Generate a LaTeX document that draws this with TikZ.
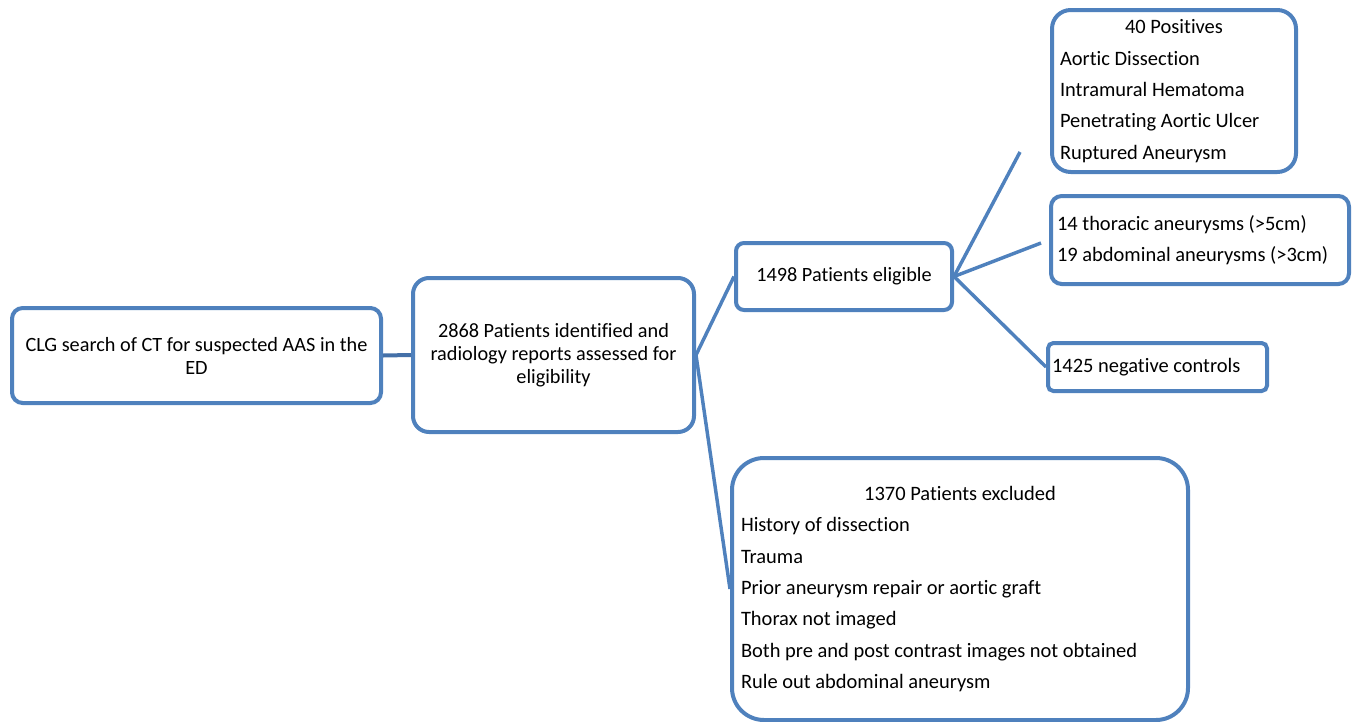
\documentclass[tikz,border=0pt]{standalone}
\usepackage{fontspec}
\setmainfont{Carlito}[Ligatures=NoCommon]
\definecolor{boxblue}{RGB}{79,129,189}
\definecolor{linkblue}{RGB}{68,112,168}

\begin{document}
\begin{tikzpicture}[
  x=0.75pt, y=-0.75pt,
  every node/.style={font=\fontsize{15.2}{17.3}\selectfont},
  rbox/.style={draw=boxblue, line width=3pt, fill=white, align=center, inner sep=0pt},
  lbox/.style={rbox, align=flush left, font=\fontsize{15.35}{23.5}\selectfont},
  link/.style={draw=boxblue, line width=2.6pt}
]
  \useasboundingbox (0,0) rectangle (1355,721);

  %--- nodes
  \node[rbox, minimum width=276.75pt, minimum height=71.25pt, rounded corners=8pt]
    (search) at (196.5,355.5) {CLG search of CT for suspected AAS in the\\ED};
  \node[rbox, minimum width=210.75pt, minimum height=115.5pt, rounded corners=12pt]
    (ident) at (553.5,355) {2868 Patients identified and\\radiology reports assessed for\\eligibility};
  \node[rbox, minimum width=162pt, minimum height=50.25pt, rounded corners=6pt]
    (elig) at (844,276.5) {1498 Patients eligible};

  \node[lbox, text width=171pt, inner xsep=6pt, minimum height=121.5pt, rounded corners=14pt]
    (pos) at (1174,91) {\makebox[\linewidth]{40 Positives}\\
      Aortic Dissection\\Intramural Hematoma\\Penetrating Aortic Ulcer\\Ruptured Aneurysm};
  \node[lbox, text width=214.5pt, inner xsep=4.5pt, minimum height=66pt, rounded corners=8pt]
    (aneur) at (1200,240) {14 thoracic aneurysms (>5cm)\\19 abdominal aneurysms (>3cm)};
  \node[lbox, text width=158.25pt, inner xsep=3pt, minimum height=36pt, rounded corners=4pt]
    (neg) at (1157.5,367) {1425 negative controls};
  \node[lbox, text width=328.5pt, inner xsep=6.75pt, minimum height=196.5pt, rounded corners=24pt]
    (excl) at (960,589) {\makebox[\linewidth]{1370 Patients excluded}\\
      History of dissection\\Trauma\\Prior aneurysm repair or aortic graft\\
      Thorax not imaged\\Both pre and post contrast images not obtained\\
      Rule out abdominal aneurysm};

  % free ends of two links
  \coordinate (posend)   at (1020,152);
  \coordinate (aneurend) at (1041,243);

  %--- links
  \draw[link, draw=linkblue, line width=3pt] (search.east) -- (ident.west);
  \draw[link] (ident.east) -- (elig.west);
  \draw[link] (ident.east) -- (excl.west);

  \draw[link] (elig.east) -- (posend);
  \draw[link] (elig.east) -- (aneurend);
  \draw[link] (elig.east) -- (neg.west);

\end{tikzpicture}
\end{document}
